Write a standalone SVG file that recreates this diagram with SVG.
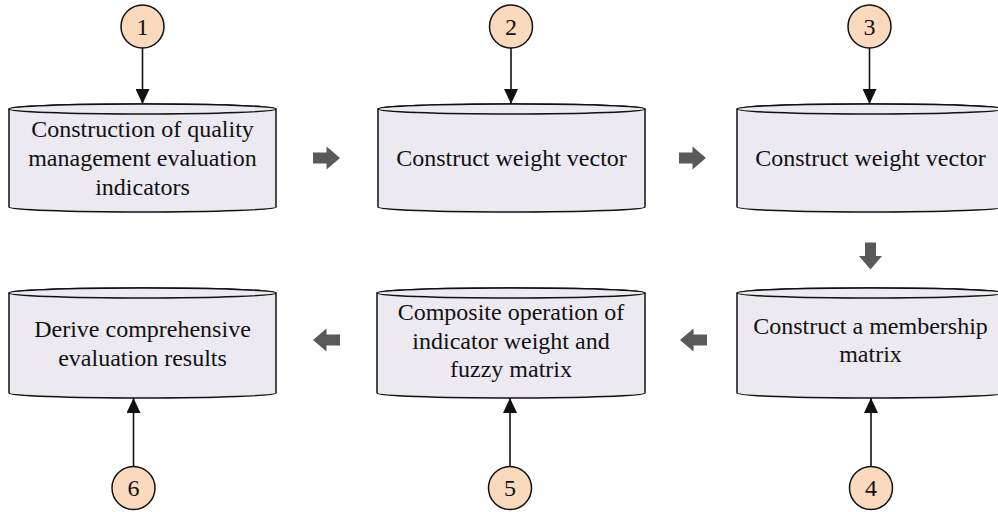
<svg xmlns="http://www.w3.org/2000/svg" width="998" height="512" viewBox="0 0 998 512">
  <style>
    .body { fill: #ECE9F1; stroke: #111; stroke-width: 1.5; }
    .lid { fill: #EDEAF2; stroke: #111; stroke-width: 1.5; }
    .badge { fill: #FAD9BC; stroke: #111; stroke-width: 1.5; }
    .label { font-family: "Liberation Serif", "Times New Roman", serif; font-size: 24px; fill: #111; text-anchor: middle; }
    .link { stroke: #111; stroke-width: 1.6; fill: none; marker-end: url(#tip); }
    .flow { fill: #595959; }
  </style>
  <defs>
    <marker id="tip" viewBox="0 0 15 14" refX="15" refY="7" markerWidth="15" markerHeight="14" markerUnits="userSpaceOnUse" orient="auto">
      <path d="M0,0 L15,7 L0,14 Z" fill="#111"/>
    </marker>
    <!-- block arrow pointing right, centred on the origin -->
    <path id="block" d="M-13.5,-5.5 H0 V-11.5 L13.5,0 L0,11.5 V5.5 H-13.5 Z"/>
  </defs>

  <rect width="998" height="512" fill="#fff"/>

  <!-- process steps (cylinders) -->
  <g id="step1">
    <path class="body" d="M9,109 A133.5,5 0 0 1 276,109 L276,207 A133.5,5 0 0 1 9,207 Z"/>
    <ellipse class="lid" cx="142.5" cy="109" rx="133.5" ry="5"/>
    <text class="label" x="142.5" y="137">Construction of quality</text>
    <text class="label" x="142.5" y="166">management evaluation</text>
    <text class="label" x="142.5" y="194.5">indicators</text>
  </g>
  <g id="step2">
    <path class="body" d="M378,109 A133.5,5 0 0 1 645,109 L645,207 A133.5,5 0 0 1 378,207 Z"/>
    <ellipse class="lid" cx="511.5" cy="109" rx="133.5" ry="5"/>
    <text class="label" x="511.5" y="166">Construct weight vector</text>
  </g>
  <g id="step3">
    <path class="body" d="M737,109 A133.5,5 0 0 1 1004,109 L1004,207 A133.5,5 0 0 1 737,207 Z"/>
    <ellipse class="lid" cx="870.5" cy="109" rx="133.5" ry="5"/>
    <text class="label" x="870.5" y="166">Construct weight vector</text>
  </g>
  <g id="step4">
    <path class="body" d="M737,293 A133.5,5 0 0 1 1004,293 L1004,393 A133.5,5 0 0 1 737,393 Z"/>
    <ellipse class="lid" cx="870.5" cy="293" rx="133.5" ry="5"/>
    <text class="label" x="870.5" y="333.5">Construct a membership</text>
    <text class="label" x="870.5" y="362">matrix</text>
  </g>
  <g id="step5">
    <path class="body" d="M377,293 A133.5,5 0 0 1 645,293 L645,393 A133.5,5 0 0 1 377,393 Z"/>
    <ellipse class="lid" cx="511" cy="293" rx="134" ry="5"/>
    <text class="label" x="511" y="320">Composite operation of</text>
    <text class="label" x="511" y="348.5">indicator weight and</text>
    <text class="label" x="511" y="377">fuzzy matrix</text>
  </g>
  <g id="step6">
    <path class="body" d="M9,293 A133.5,5 0 0 1 276,293 L276,393 A133.5,5 0 0 1 9,393 Z"/>
    <ellipse class="lid" cx="142.5" cy="293" rx="133.5" ry="5"/>
    <text class="label" x="142.5" y="337">Derive comprehensive</text>
    <text class="label" x="142.5" y="366">evaluation results</text>
  </g>

  <!-- numbered markers -->
  <g id="badge1"><circle class="badge" cx="142.5" cy="26.5" r="21.5"/><text class="label" x="142.5" y="34.5">1</text></g>
  <g id="badge2"><circle class="badge" cx="511" cy="26.5" r="21.5"/><text class="label" x="511" y="34.5">2</text></g>
  <g id="badge3"><circle class="badge" cx="869.5" cy="26.5" r="21.5"/><text class="label" x="869.5" y="34.5">3</text></g>
  <g id="badge4"><circle class="badge" cx="871" cy="488" r="21.5"/><text class="label" x="871" y="496">4</text></g>
  <g id="badge5"><circle class="badge" cx="510" cy="488" r="21.5"/><text class="label" x="510" y="496">5</text></g>
  <g id="badge6"><circle class="badge" cx="133.5" cy="488" r="21.5"/><text class="label" x="133.5" y="496">6</text></g>

  <!-- connectors -->
  <g id="connectors">
    <line class="link" x1="142.5" y1="48" x2="142.5" y2="104"/>
    <line class="link" x1="511" y1="48" x2="511" y2="104"/>
    <line class="link" x1="869.5" y1="48" x2="869.5" y2="104"/>
    <line class="link" x1="871" y1="466.5" x2="871" y2="398"/>
    <line class="link" x1="510" y1="466.5" x2="510" y2="398"/>
    <line class="link" x1="133.5" y1="466.5" x2="133.5" y2="398"/>
    <use href="#block" class="flow" transform="translate(326.5,158)"/>
    <use href="#block" class="flow" transform="translate(692.5,158)"/>
    <use href="#block" class="flow" transform="translate(870.5,256) rotate(90)"/>
    <use href="#block" class="flow" transform="translate(693.5,340) rotate(180)"/>
    <use href="#block" class="flow" transform="translate(326.5,340) rotate(180)"/>
  </g>
</svg>
